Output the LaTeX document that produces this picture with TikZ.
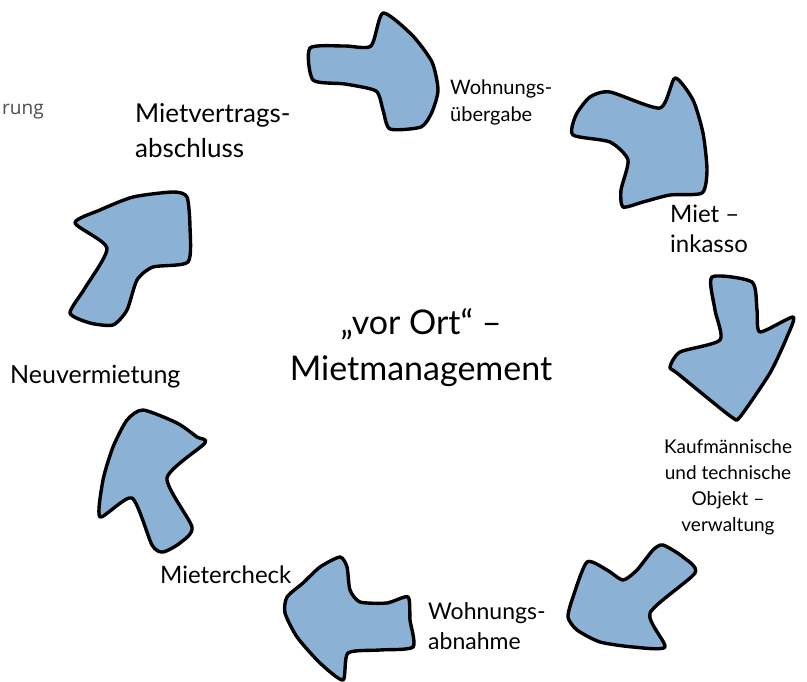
\documentclass[tikz,border=0pt]{standalone}
\usepackage{fontspec}
\setmainfont{Lato}
\newfontfamily\grauschrift{Open Sans}
\usepackage{tikz}
\usetikzlibrary{calc}
\usepackage{xcolor}
\definecolor{pfeilblau}{RGB}{139,178,212}
\tikzstyle{pfeil}=[draw=black,fill=pfeilblau,line width=3.4,line join=round]
\tikzstyle{schrift}=[inner sep=0,align=left,anchor=west]

\begin{document}
\begin{tikzpicture}[x=1pt,y=-1pt]
    \useasboundingbox (0,0) rectangle (807,682);

    % Pfeile im Kreis
    \draw[pfeil] plot[smooth cycle,tension=0.4] coordinates {(310,48) (345,46) (371,46) (383,13) (412,35) (432,62) (438,90) (432,112) (421,127) (390,129) (383,110) (376,91) (345,84) (313,80)};
    \draw[pfeil] plot[smooth cycle,tension=0.4] coordinates {(573,135) (576,115) (590,97) (610,92) (660,108) (675,78) (693,100) (703,133) (707,170) (702,193) (670,195) (643,202) (623,207) (621,190) (628,160) (610,142)};
    \draw[pfeil] plot[smooth cycle,tension=0.4] coordinates {(712,277) (752,282) (757,310) (760,332) (793,317) (787,337) (770,373) (740,417) (733,418) (710,400) (677,373) (670,367) (680,352) (720,340) (715,310)};
    \draw[pfeil] plot[smooth cycle,tension=0.4] coordinates {(663,545) (683,557) (695,573) (650,613) (665,647) (633,647) (600,642) (577,630) (568,617) (573,597) (587,562) (607,570) (623,580) (637,570) (653,550)};
    \draw[pfeil] plot[smooth cycle,tension=0.4] coordinates {(340,557) (320,567) (303,583) (287,597) (285,613) (297,637) (320,663) (343,680) (348,653) (380,650) (413,647) (410,620) (408,597) (387,603) (360,602) (350,590) (347,567)};
    \draw[pfeil] plot[smooth cycle,tension=0.4] coordinates {(143,410) (177,423) (197,437) (205,443) (167,478) (192,527) (180,543) (163,552) (152,545) (132,498) (100,517) (103,480) (113,447) (127,420)};
    \draw[pfeil] plot[smooth cycle,tension=0.4] coordinates {(70,313) (85,288) (107,248) (75,223) (100,210) (133,197) (173,192) (187,197) (190,227) (188,262) (153,267) (137,280) (127,310) (113,325) (90,323)};

    % Beschriftung
    \node[inner sep=0,align=center,font=\fontsize{34}{46}\selectfont] (mitte) at (421,348) {„vor Ort“ –\\Mietmanagement};
    \node[schrift,font=\fontsize{26}{35}\selectfont] (vertrag) at (135,131) {Mietvertrags-\\abschluss};
    \node[schrift,font=\fontsize{20}{27}\selectfont] (uebergabe) at (450,102) {Wohnungs-\\übergabe};
    \node[schrift,font=\fontsize{24}{30}\selectfont] (inkasso) at (670,229) {Miet –\\inkasso};
    \node[inner sep=0,align=center,font=\fontsize{19}{26}\selectfont] (objekt) at (728,487) {Kaufmännische\\und technische\\Objekt –\\verwaltung};
    \node[schrift,font=\fontsize{23}{30}\selectfont] (abnahme) at (428,626) {Wohnungs-\\abnahme};
    \node[schrift,font=\fontsize{24}{30}\selectfont] (check) at (160,575) {Mietercheck};
    \node[schrift,font=\fontsize{25}{30}\selectfont] (neu) at (10,377) {Neuvermietung};
    \node[schrift,text=black!70,font=\grauschrift\fontsize{19}{24}\selectfont] (rest) at (2,112) {rung};
\end{tikzpicture}
\end{document}
